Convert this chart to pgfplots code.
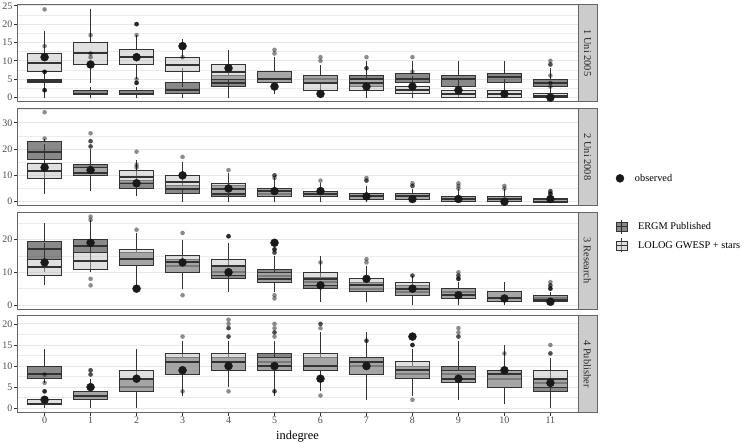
\documentclass[border=0pt]{standalone}
\usepackage{pgfplots}
\pgfplotsset{compat=1.18}
\usepgfplotslibrary{statistics}
\usepackage{fontspec}
\setmainfont{Liberation Serif}
\definecolor{ergmfill}{gray}{0.08}
\definecolor{lologfill}{gray}{0.76}
\definecolor{edge}{gray}{0.2}
\definecolor{frame}{gray}{0.4}
\definecolor{stripfill}{gray}{0.8}
\definecolor{ticktext}{gray}{0.3}

\pgfplotsset{
  panel/.style={
    width=561pt, height=97.3pt, scale only axis,
    xmin=-0.6, xmax=11.6,
    axis line style={frame, line width=0.8pt},
    tick pos=left, tick align=outside,
    major tick length=3pt, minor tick length=0pt,
    tick style={edge, line width=0.7pt},
    ymajorgrids, yminorgrids,
    major grid style={black!9, line width=0.9pt},
    minor grid style={black!8, line width=0.45pt},
    /pgf/number format/assume math mode=true,
    yticklabel style={font=\fontsize{10}{12}\selectfont, text=ticktext, inner sep=1.5pt},
    xticklabel style={font=\fontsize{10}{12}\selectfont, text=ticktext, inner sep=1.5pt},
    xtick=\empty,
  },
  bx/.style={forget plot, boxplot/draw direction=y, boxplot/box extend=0.75,
    boxplot/whisker extend=0, draw=edge, line width=0.9pt,
    mark=*, mark size=2.3pt,
    every mark/.append style={solid, draw=none, draw opacity=0, line width=0pt, fill=black, fill opacity=0.45},
    mark options={solid, draw=none, draw opacity=0, line width=0pt, fill=black, fill opacity=0.45},
    boxplot/every median/.style={line width=2pt}},
  ergm/.style={bx, fill=ergmfill, fill opacity=0.5},
  lolog/.style={bx, fill=lologfill, fill opacity=0.5},
  obs/.style={only marks, mark=*, mark size=4pt, color=black!90, mark options={draw=none, fill=black!90}},
  ergmimg/.style={legend image code/.code={
    \draw[edge, line width=0.8pt] (0.3cm,-7pt) -- (0.3cm,7pt);
    \draw[draw=edge, fill=ergmfill, fill opacity=0.5, line width=0.8pt] (0.3cm-5.5pt,-4.5pt) rectangle (0.3cm+5.5pt,4.5pt);
    \draw[edge, line width=1.6pt] (0.3cm-5.5pt,0pt) -- (0.3cm+5.5pt,0pt);}},
  lologimg/.style={legend image code/.code={
    \draw[edge, line width=0.8pt] (0.3cm,-7pt) -- (0.3cm,7pt);
    \draw[draw=edge, fill=lologfill, fill opacity=0.5, line width=0.8pt] (0.3cm-5.5pt,-4.5pt) rectangle (0.3cm+5.5pt,4.5pt);
    \draw[edge, line width=1.6pt] (0.3cm-5.5pt,0pt) -- (0.3cm+5.5pt,0pt);}},
}
\newcommand{\ER}[7]{\addplot[ergm, boxplot prepared={draw position=#1, lower whisker=#2, lower quartile=#3, median=#4, upper quartile=#5, upper whisker=#6}] coordinates {#7};}
\newcommand{\LO}[7]{\addplot[lolog, boxplot prepared={draw position=#1, lower whisker=#2, lower quartile=#3, median=#4, upper quartile=#5, upper whisker=#6}] coordinates {#7};}
\newcommand{\strip}[2]{%
  \draw[frame, line width=0.8pt, fill=stripfill] (#1.south east) rectangle ([xshift=19pt]#1.north east);
  \node[rotate=-90, font=\fontsize{10.4}{12}\selectfont, text=black!85] at ([xshift=9.5pt]#1.east) {#2};}

\begin{document}
\begin{tikzpicture}
\path[use as bounding box] (-17pt,4.3pt) rectangle (733pt,-438.7pt);

% ---------------- Panel 1 ----------------
\begin{axis}[panel, name=p1, at={(0pt,0pt)}, anchor=north west,
  ymin=-1.1, ymax=25.4, ytick={0,5,10,15,20,25}, minor ytick={2.5,7.5,12.5,17.5,22.5}]
\ER{0}{3}{4}{4.5}{5}{6}{(0,7)(0,7)(0,7)(0,2)(0,2)(0,2)(0,14)}
\LO{0}{0}{7}{9.5}{12}{18}{(0,24)}
\ER{1}{0}{1}{1}{2}{3}{(1,17)(1,12)(1,11)}
\LO{1}{4}{9}{12}{15}{24}{}
\ER{2}{0}{1}{1}{2}{3}{(2,4)(2,4)(2,4)(2,5)(2,17)}
\LO{2}{5}{9}{11}{13}{17}{(2,20)(2,20)(2,20)}
\ER{3}{0}{1}{2}{4}{8}{(3,11)}
\LO{3}{3}{7}{9}{11}{16}{}
\ER{4}{0}{3}{4}{6}{10}{}
\LO{4}{1}{5}{7}{9}{13}{}
\ER{5}{1}{4}{5}{7}{11}{(5,13)(5,12)}
\LO{5}{1}{4}{5}{7}{11}{}
\ER{6}{1}{4}{5}{6}{9}{(6,10)(6,11)}
\LO{6}{0}{2}{4}{6}{9}{}
\ER{7}{0}{3}{5}{6}{10}{(7,11)}
\LO{7}{0}{2}{4}{5}{7}{(7,8)(7,8)}
\ER{8}{1}{4}{5}{6.5}{10}{(8,11)}
\LO{8}{0}{1}{2}{3}{6}{(8,7)}
\ER{9}{0}{3}{5}{6}{10}{}
\LO{9}{0}{0}{1}{2}{5}{}
\ER{10}{0}{4}{5.5}{6.5}{10}{}
\LO{10}{0}{0}{1}{2}{5}{}
\ER{11}{1}{3}{4}{5}{8}{(11,9)(11,9)(11,10)}
\LO{11}{0}{0}{0.5}{1}{2}{(11,3)(11,4)(11,6)}
\addplot[obs, forget plot] coordinates {(0,11)(1,9)(2,11)(3,14)(4,8)(5,3)(6,1)(7,3)(8,3)(9,2)(10,1)(11,0)};
\end{axis}
\strip{p1}{1 Uni 2005}

% ---------------- Panel 2 ----------------
\begin{axis}[panel, name=p2, at={(0pt,-104pt)}, anchor=north west,
  ymin=-1.5, ymax=35.5, ytick={0,10,20,30}, minor ytick={5,15,25,35},
  legend style={at={(1.062,0.28)}, anchor=west, draw=none, fill=none,
    font=\fontsize{10.3}{12}\selectfont,
    /tikz/every odd column/.append style={column sep=9pt}}, legend cell align=left]
\ER{0}{8}{16}{19}{23}{24}{(0,34)}
\LO{0}{3}{9}{11.5}{14.5}{22}{(0,24)}
\ER{1}{4}{10}{11}{14}{20}{(1,21)(1,23)(1,26)}
\LO{1}{4}{10}{11}{13}{19}{(1,21)(1,23)}
\ER{2}{2}{5}{7}{8}{12}{(2,13)(2,14)(2,19)}
\LO{2}{2}{7}{9.5}{12}{16}{}
\ER{3}{0}{3}{5}{6}{10}{(3,17)}
\LO{3}{0}{5}{7.5}{10}{15}{}
\ER{4}{0}{2}{3}{6}{10}{(4,12)}
\LO{4}{0}{3}{5}{7}{11}{}
\ER{5}{0}{2}{3}{5}{8}{(5,9)(5,10)}
\LO{5}{0}{2}{4}{5}{9}{(5,10)}
\ER{6}{0}{2}{3}{4}{7}{(6,8)}
\LO{6}{0}{2}{3}{4}{7}{}
\ER{7}{0}{1}{2}{3}{6}{(7,8)(7,9)}
\LO{7}{0}{1}{2}{3}{6}{(7,8)}
\ER{8}{0}{1}{2}{3}{5}{(8,6)(8,7)}
\LO{8}{0}{1}{2}{3}{5}{(8,6)}
\ER{9}{0}{0}{1}{2}{5}{(9,6)(9,7)}
\LO{9}{0}{0}{1}{2}{4}{(9,5)}
\ER{10}{0}{0}{1}{2}{5}{(10,6)}
\LO{10}{0}{0}{1}{2}{4}{(10,5)}
\ER{11}{0}{0}{1}{1}{2}{(11,3)(11,4)}
\LO{11}{0}{0}{0}{1}{2}{(11,3)(11,3)(11,4)}
\addplot[obs] coordinates {(0,13)(1,12)(2,7)(3,10)(4,5)(5,4)(6,4)(7,2)(8,1)(9,1)(10,0)(11,1)};
\addlegendentry{observed}
\end{axis}
\strip{p2}{2 Uni 2008}

% ---------------- Panel 3 ----------------
\begin{axis}[panel, name=p3, at={(0pt,-207.7pt)}, anchor=north west,
  ymin=-1.3, ymax=28.4, ytick={0,10,20}, minor ytick={5,15,25},
  legend style={at={(1.061,0.753)}, anchor=west, draw=none, fill=none,
    font=\fontsize{10.3}{12}\selectfont, row sep=4pt,
    /tikz/every odd column/.append style={column sep=8pt}}, legend cell align=left]
\ER{0}{10}{14}{17}{19.5}{25}{}
\LO{0}{6}{9}{11.5}{14}{19}{}
\ER{1}{10}{16}{18}{20}{26}{(1,27)(1,8)(1,6)}
\LO{1}{10}{11}{13.5}{16}{23}{(1,26)}
\ER{2}{5}{12}{14}{16}{22}{(2,23)}
\LO{2}{6}{12}{14}{17}{22}{}
\ER{3}{5}{10}{12}{14}{20}{(3,22)(3,3)}
\LO{3}{5}{10}{13}{15}{20}{}
\ER{4}{4}{8}{10}{12}{18}{(4,21)(4,21)}
\LO{4}{5}{9}{12}{14}{19}{(4,21)}
\ER{5}{4}{7}{9}{11}{15}{(5,16)(5,17)(5,17)(5,2)(5,3)}
\LO{5}{4}{7}{8}{10}{14}{(5,16)(5,17)}
\ER{6}{1}{5}{7}{8.5}{12}{(6,13)}
\LO{6}{1}{6}{8}{10}{15}{}
\ER{7}{1}{4}{5}{7}{12}{(7,13)(7,14)}
\LO{7}{1}{4}{6}{8}{12}{}
\ER{8}{0}{3}{4}{6}{8}{(8,9)(8,9)}
\LO{8}{0}{3}{5}{7}{9}{}
\ER{9}{0}{2}{4}{5}{7}{(9,8)(9,8)(9,9)(9,10)}
\LO{9}{0}{2}{3}{5}{7}{(9,8)(9,9)}
\ER{10}{0}{1}{2}{4}{7}{}
\LO{10}{0}{1}{2}{4}{7}{}
\ER{11}{0}{1}{2}{3}{4}{(11,5)(11,5)(11,6)(11,7)}
\LO{11}{0}{1}{1.5}{3}{4}{(11,5)(11,6)}
\addplot[obs, forget plot] coordinates {(0,13)(1,19)(2,5)(3,13)(4,10)(5,19)(6,6)(7,8)(8,5)(9,3)(10,2)(11,1)};
\addlegendimage{ergmimg}\addlegendentry{ERGM Published}
\addlegendimage{lologimg}\addlegendentry{LOLOG GWESP + stars}
\end{axis}
\strip{p3}{3 Research}

% ---------------- Panel 4 ----------------
\begin{axis}[panel, name=p4, at={(0pt,-311pt)}, anchor=north west,
  ymin=-1.05, ymax=22.05, ytick={0,5,10,15,20}, minor ytick={2.5,7.5,12.5,17.5},
  xtick={0,1,...,11},
  xlabel={indegree}, xlabel style={font=\fontsize{12.4}{14}\selectfont, yshift=-2pt}]
\ER{0}{6}{7}{8}{10}{14}{}
\LO{0}{0}{1}{1}{2}{3}{(0,4)(0,4)(0,4)(0,6)(0,8)}
\ER{1}{0}{2}{3}{4}{7}{(1,8)(1,9)}
\LO{1}{0}{2}{3}{4}{7}{(1,8)(1,9)}
\ER{2}{0}{4}{5}{7}{11}{}
\LO{2}{0}{4}{7}{9}{14}{}
\ER{3}{5}{8}{11}{12}{16}{(3,17)(3,4)}
\LO{3}{3}{8}{11}{13}{16}{}
\ER{4}{5}{9}{11}{12}{16}{(4,17)(4,19)(4,20)(4,21)(4,4)}
\LO{4}{5}{9}{11}{13}{16}{(4,17)(4,19)}
\ER{5}{4}{9}{11}{13}{16}{(5,17)(5,18)(5,19)(5,20)(5,4)}
\LO{5}{3}{9}{10}{12}{15}{(5,18)(5,4)}
\ER{6}{4}{9}{10}{12}{18}{(6,20)(6,3)}
\LO{6}{4}{9}{10}{13}{18}{(6,19)(6,20)}
\ER{7}{2}{8}{10}{12}{15}{(7,16)(7,16)}
\LO{7}{2}{8}{11}{12}{18}{}
\ER{8}{3}{7}{8}{10}{14}{(8,15)(8,15)(8,2)}
\LO{8}{3}{7}{9}{11}{14}{(8,15)}
\ER{9}{2}{6}{8}{10}{16}{(9,17)(9,18)(9,19)}
\LO{9}{2}{6}{7}{9}{13}{(9,17)}
\ER{10}{1}{5}{7}{9}{15}{}
\LO{10}{1}{5}{8}{9}{12}{(10,13)}
\ER{11}{0}{4}{6}{7}{11}{(11,13)}
\LO{11}{0}{5}{7}{9}{12}{(11,15)(11,13)}
\addplot[obs, forget plot] coordinates {(0,2)(1,5)(2,7)(3,9)(4,10)(5,10)(6,7)(7,10)(8,17)(9,7)(10,9)(11,6)};
\end{axis}
\strip{p4}{4 Publisher}
\end{tikzpicture}
\end{document}
